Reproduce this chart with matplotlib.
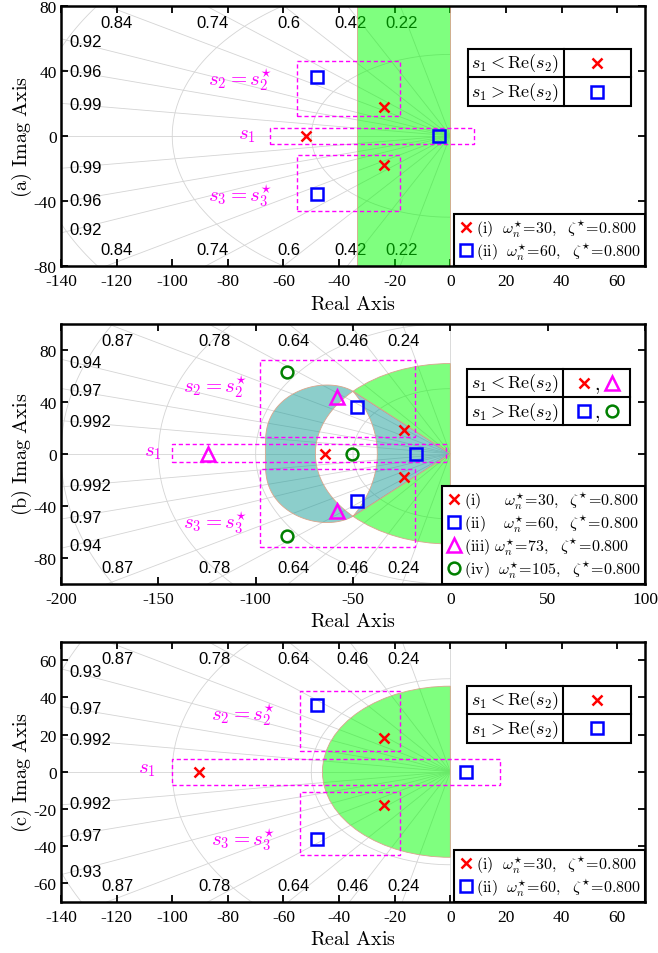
import numpy as np
import matplotlib as mpl
mpl.use('Agg')
import matplotlib.pyplot as plt
from matplotlib.patches import Rectangle, Wedge, Polygon
from matplotlib.lines import Line2D

plt.rcParams['font.family'] = ['Liberation Serif', 'DejaVu Serif']
plt.rcParams['mathtext.fontset'] = 'cm'
plt.rcParams['axes.unicode_minus'] = False

# ---------------- data ----------------
case_names = ['i', 'ii', 'iii', 'iv']
wn_cases = [30, 60, 73, 105]
zeta_star = 0.800
case_markers = ['x', 's', '^', 'o']
case_colors = ['#ff0000', '#0000ff', '#ff00ff', '#008000']
case_ms = [7, 8, 10, 8.5]

# complex pair s2, s3 = re +/- j im
s2_re = [-24, -48, -58.4, -84]
s2_im = [18, 36, 43.8, 63]

# real pole s1 per panel
a_s1 = [-52, -4]
b_s1 = [-64.4, -17.5, -124.7, -50.5]
c_s1 = [-90.5, 5.6]

# axis ranges / ticks
a_xlim, a_ylim = (-140, 70), (-80, 80)
b_xlim, b_ylim = (-200, 100), (-100, 100)
c_xlim, c_ylim = (-140, 70), (-70, 70)
a_xticks, a_yticks = np.arange(-140, 61, 20), np.arange(-80, 81, 40)
b_xticks, b_yticks = np.arange(-200, 101, 50), np.arange(-80, 81, 40)
c_xticks, c_yticks = np.arange(-140, 61, 20), np.arange(-60, 61, 20)

# sgrid: damping values labelled at top/bottom and left, frequency circles
a_zeta_top, a_zeta_left = [0.84, 0.74, 0.6, 0.42, 0.22], [0.92, 0.96, 0.99]
b_zeta_top, b_zeta_left = [0.87, 0.78, 0.64, 0.46, 0.24], [0.94, 0.97, 0.992]
c_zeta_top, c_zeta_left = [0.87, 0.78, 0.64, 0.46, 0.24], [0.93, 0.97, 0.992]
a_wn_grid = [50, 100, 150]
b_wn_grid = [50, 100, 150, 200]
c_wn_grid = [50, 100, 150]

# dashed boxes [x0, x1, y0, y1] for s1, s2, s3
a_boxes = [[-65, 8.6, -5, 5], [-55, -18, 12, 46], [-55, -18, -46, -12]]
b_boxes = [[-143, -2, -6.5, 7.2], [-98, -18, 13, 72], [-98, -18, -71.5, -11.5]]
c_boxes = [[-100, 18, -7, 7], [-54, -18, 11, 43.5], [-54, -18, -44.5, -11]]

# regions
a_band = [-33.4, 0]              # (a) strip
b_green_r = 69.3                 # (b) disc radius
b_junction = (-50, 48)           # (b) where the regions meet
b_lens_center = -136             # (b) centre of lens right arc
b_teal_x = [-50, -54, -66, -73, -82.4, -90.1, -95.2, -96]   # (b) outer edge, upper half
b_teal_y = [48, 51.9, 53.1, 51.9, 45.4, 32.5, 7.9, 0]
c_green_r = 46

GRID_C = '#d4d4d4'
MAG = '#ff00ff'
GREEN_F = (0.0, 1.0, 0.0, 0.5)
TEAL_F = (0.1, 0.62, 0.6, 0.5)
EDGE_C = '#d9a58c'


def sgrid(ax, xlim, ylim, zeta_top, zeta_left, wn_list):
    big = 1000
    for z in zeta_top + zeta_left:
        th = np.arccos(z)
        for sgn in (1, -1):
            ax.plot([0, -big*np.cos(th)], [0, sgn*big*np.sin(th)], color=GRID_C, lw=0.6, zorder=0.5)
    ax.plot([-big, 0], [0, 0], color=GRID_C, lw=0.6, zorder=0.5)
    ax.plot([0, 0], [-big, big], color=GRID_C, lw=0.6, zorder=0.5)
    t = np.linspace(np.pi/2, 3*np.pi/2, 300)
    for w in wn_list:
        ax.plot(w*np.cos(t), w*np.sin(t), color=GRID_C, lw=0.6, zorder=0.5)
    # damping labels
    for z in zeta_top:
        slope = np.sqrt(1 - z**2)/z
        for sgn in (1, -1):
            yedge = ylim[1] if sgn > 0 else ylim[0]
            x = -abs(yedge)*0.97/slope
            ax.annotate('%g' % z, xy=(x, yedge), xytext=(0, -12*sgn), textcoords='offset points',
                        ha='center', va='center', fontsize=12, family='Liberation Sans', zorder=1)
    for z in zeta_left:
        slope = np.sqrt(1 - z**2)/z
        y = -xlim[0]*slope*0.97
        for sgn in (1, -1):
            ax.annotate('%g' % z, xy=(xlim[0], sgn*y), xytext=(6, 0), textcoords='offset points',
                        ha='left', va='center', fontsize=12, family='Liberation Sans', zorder=1)


def draw_boxes(ax, boxes, label_pos):
    for (x0, x1, y0, y1) in boxes:
        ax.add_patch(Rectangle((x0, y0), x1-x0, y1-y0, fill=False, ec=MAG, lw=1.0,
                               ls=(0, (3, 2)), zorder=3))
    texts = [r'$s_1$', r'$s_2 = s_2^{\star}$', r'$s_3 = s_3^{\star}$']
    for txt, (x, y) in zip(texts, label_pos):
        ax.text(x, y, txt, color=MAG, fontsize=15, ha='right', va='center', zorder=3)


def draw_poles(ax, s1_list):
    for k, s1 in enumerate(s1_list):
        ax.plot([s1, s2_re[k], s2_re[k]], [0, s2_im[k], -s2_im[k]], ls='none',
                marker=case_markers[k], color=case_colors[k], mfc='none',
                ms=case_ms[k], mew=1.8, zorder=5)


def case_legend(ax, n, pads):
    handles, labels = [], []
    for k in range(n):
        handles.append(Line2D([], [], ls='none', marker=case_markers[k], color=case_colors[k],
                              mfc='none', ms=case_ms[k], mew=1.8))
        labels.append(r'$\mathrm{(%s)}%s\omega_n^{\star}\!=\!%d,\ \ \zeta^{\star}\!=\!%.3f$'
                      % (case_names[k], pads[k], wn_cases[k], zeta_star))
    leg = ax.legend(handles, labels, loc='lower right', borderaxespad=0, fontsize=11.5,
                    fancybox=False, framealpha=1, edgecolor='k', handlelength=0.9,
                    handletextpad=0.2, borderpad=0.25, labelspacing=0.12)
    leg.get_frame().set_linewidth(1.5)
    leg.set_zorder(8)


def s_table(ax, box, row_marks):
    x0, x1, y0, y1, xs = box
    ax.add_patch(Rectangle((x0, y0), x1-x0, y1-y0, transform=ax.transAxes, fc='white',
                           ec='k', lw=1.5, zorder=6))
    ym = (y0 + y1)/2
    ax.plot([xs, xs], [y0, y1], transform=ax.transAxes, color='k', lw=1.5, zorder=7)
    ax.plot([x0, x1], [ym, ym], transform=ax.transAxes, color='k', lw=1.5, zorder=7)
    texts = [r'$s_1 < \mathrm{Re}(s_2)$', r'$s_1 > \mathrm{Re}(s_2)$']
    xc = (xs + x1)/2
    for r, (txt, ks) in enumerate(zip(texts, row_marks)):
        yc = (y1 + ym)/2 if r == 0 else (ym + y0)/2
        ax.text(xs - 0.008, yc, txt, transform=ax.transAxes, ha='right', va='center',
                fontsize=13, zorder=7)
        if len(ks) == 1:
            xs_m = [xc]
        else:
            xs_m = [xc - 0.022, xc + 0.026]
            ax.text(xc + 0.0, yc - 0.012, r'$,$', transform=ax.transAxes, ha='center',
                    va='center', fontsize=14, zorder=8)
        for xm, k in zip(xs_m, ks):
            ax.plot([xm], [yc], transform=ax.transAxes, ls='none', marker=case_markers[k],
                    color=case_colors[k], mfc='none', ms=case_ms[k], mew=1.8, zorder=7,
                    clip_on=False)


def style_axes(ax, xlim, ylim, xticks, yticks, tag):
    ax.set_xlim(*xlim)
    ax.set_ylim(*ylim)
    ax.set_xticks(xticks)
    ax.set_yticks(yticks)
    ax.tick_params(direction='in', top=True, right=True, length=5, width=1.3,
                   labelsize=12.5, pad=3)
    ax.tick_params(axis='x', pad=5)
    for sp in ax.spines.values():
        sp.set_linewidth(1.8)
    ax.set_xlabel(r'$\mathrm{Real\ Axis}$', fontsize=14.5, labelpad=4)
    ax.set_ylabel(r'$\mathrm{(%s)\ Imag\ Axis}$' % tag, fontsize=14.5, labelpad=0)


fig = plt.figure(figsize=(6.58, 9.54), dpi=100)
L, W, H = 0.0927, 0.8875, 0.2730

# ---------------- (a) ----------------
ax = fig.add_axes([L, 0.7201, W, H])
sgrid(ax, a_xlim, a_ylim, a_zeta_top, a_zeta_left, a_wn_grid)
ax.add_patch(Rectangle((a_band[0], a_ylim[0]), a_band[1]-a_band[0], a_ylim[1]-a_ylim[0],
                       fc=GREEN_F, ec=EDGE_C, lw=0.6, zorder=2))
draw_boxes(ax, a_boxes, [(-70, 1), (-64, 35), (-64, -36)])
draw_poles(ax, a_s1)
style_axes(ax, a_xlim, a_ylim, a_xticks, a_yticks, 'a')
s_table(ax, (0.697, 0.976, 0.615, 0.835, 0.861), [[0], [1]])
case_legend(ax, 2, [r'\ \ ', r'\ \ '])

# ---------------- (b) ----------------
ax = fig.add_axes([L, 0.3868, W, H])
sgrid(ax, b_xlim, b_ylim, b_zeta_top, b_zeta_left, b_wn_grid)
thP = np.degrees(np.arctan2(b_junction[1], b_junction[0]))
ax.add_patch(Wedge((0, 0), b_green_r, 90, thP, fc=GREEN_F, ec=EDGE_C, lw=0.6, zorder=2))
ax.add_patch(Wedge((0, 0), b_green_r, -thP, -90, fc=GREEN_F, ec=EDGE_C, lw=0.6, zorder=2))
# teal region: wedge to origin + outer crescent, minus the white lens
cx = -62.0
ang = np.arctan2(b_teal_y, np.array(b_teal_x) - cx)
rad = np.hypot(b_teal_y, np.array(b_teal_x) - cx)
coef = np.polyfit((ang - np.pi)**2, rad, 2)          # smooth, symmetric about real axis
tt = np.linspace(ang[0], np.pi, 80)
rr = np.polyval(coef, (tt - np.pi)**2)
rr = rr*rad[0]/rr[0]                                   # keep the junction point
up_x, up_y = cx + rr*np.cos(tt), rr*np.sin(tt)
outer_x = np.concatenate([up_x, up_x[::-1][1:]])
outer_y = np.concatenate([up_y, -up_y[::-1][1:]])
tl = np.linspace(np.radians(360 - thP), np.radians(thP), 80)
lensL_x, lensL_y = b_green_r*np.cos(tl), b_green_r*np.sin(tl)
rR = np.hypot(b_junction[0] - b_lens_center, b_junction[1])
phi = np.arctan2(b_junction[1], b_junction[0] - b_lens_center)
tr = np.linspace(phi, -phi, 60)
lensR_x, lensR_y = b_lens_center + rR*np.cos(tr), rR*np.sin(tr)
px = np.concatenate([[0], outer_x, lensL_x, lensR_x, [0]])
py = np.concatenate([[0], outer_y, lensL_y, lensR_y, [0]])
ax.add_patch(Polygon(np.column_stack([px, py]), closed=True, fc=TEAL_F, ec=EDGE_C,
                     lw=0.6, zorder=2))
draw_boxes(ax, b_boxes, [(-148, 2), (-104, 52), (-104, -52)])
draw_poles(ax, b_s1)
style_axes(ax, b_xlim, b_ylim, b_xticks, b_yticks, 'b')
s_table(ax, (0.696, 0.974, 0.609, 0.826, 0.860), [[0, 2], [1, 3]])
case_legend(ax, 4, [r'\quad\ \ ', r'\quad\ ', r'\ ', r'\ \ '])

# ---------------- (c) ----------------
ax = fig.add_axes([L, 0.0535, W, H])
sgrid(ax, c_xlim, c_ylim, c_zeta_top, c_zeta_left, c_wn_grid)
ax.add_patch(Wedge((0, 0), c_green_r, 90, 270, fc=GREEN_F, ec=EDGE_C, lw=0.6, zorder=2))
draw_boxes(ax, c_boxes, [(-106, 2), (-63, 31), (-63, -36)])
draw_poles(ax, c_s1)
style_axes(ax, c_xlim, c_ylim, c_xticks, c_yticks, 'c')
s_table(ax, (0.696, 0.976, 0.612, 0.831, 0.860), [[0], [1]])
case_legend(ax, 2, [r'\ \ ', r'\ \ '])

fig.savefig('out.png', dpi=100)
